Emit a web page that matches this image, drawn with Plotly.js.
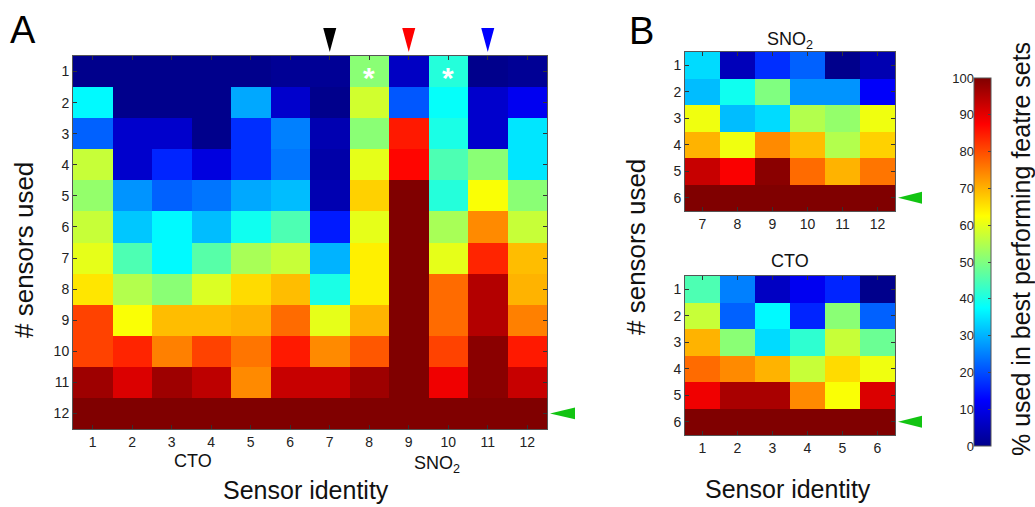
<!DOCTYPE html>
<html>
<head>
<meta charset="utf-8">
<script src="https://cdn.plot.ly/plotly-3.0.1.min.js"></script>
<style>html,body{margin:0;padding:0;background:#fff;}#chart{width:1035px;height:507px;}</style>
</head>
<body>
<div id="chart"></div>
<script>
// ---- data ----
const aCols = [1,2,3,4,5,6,7,8,9,10,11,12];
const aRows = [1,2,3,4,5,6,7,8,9,10,11,12];
// % used in best performing feature sets; rows = # sensors used, columns = sensor identity
const aValues = [
  [0, 0, 0, 0, 0, 1, 1, 51, 6, 41, 0, 1],
  [37, 0, 0, 0, 29, 7, 0, 58, 21, 38, 7, 11],
  [22, 7, 7, 0, 17, 25, 4, 51, 85, 40, 7, 35],
  [57, 7, 16, 9, 17, 24, 3, 60, 87, 45, 51, 35],
  [52, 27, 22, 24, 29, 31, 4, 67, 100, 41, 62, 51],
  [57, 32, 37, 31, 39, 45, 15, 60, 100, 54, 74, 57],
  [60, 45, 37, 46, 54, 57, 30, 64, 100, 60, 84, 69],
  [65, 55, 51, 59, 66, 69, 40, 64, 100, 77, 95, 70],
  [81, 62, 69, 69, 70, 77, 60, 70, 100, 77, 95, 75],
  [81, 84, 75, 81, 76, 85, 74, 79, 100, 81, 99, 85],
  [97, 91, 97, 94, 74, 93, 93, 97, 100, 89, 99, 93],
  [100, 100, 100, 100, 100, 100, 100, 100, 100, 100, 100, 100]
];
const snoCols = [7,8,9,10,11,12];
const ctoCols = [1,2,3,4,5,6];
const bRows = [1,2,3,4,5,6];
const snoValues = [
  [34, 5, 17, 22, 0, 4],
  [31, 39, 50, 27, 27, 12],
  [61, 31, 34, 55, 52, 61],
  [70, 61, 74, 69, 55, 67],
  [93, 88, 99, 77, 70, 76],
  [100, 100, 100, 100, 100, 100]
];
const ctoValues = [
  [45, 25, 6, 11, 16, 0],
  [57, 22, 37, 16, 51, 22],
  [70, 51, 34, 42, 57, 48],
  [77, 74, 70, 57, 66, 61],
  [89, 96, 96, 74, 62, 91],
  [100, 100, 100, 100, 100, 100]
];
const markedCols = [7, 9, 11];
const markedColors = ['#000000', '#ff0000', '#0000ff'];
const starCols = [8, 10];
const starRows = [1, 1];
const fullRowA = 12;
const fullRowB = 6;
const cbTicks = [0,10,20,30,40,50,60,70,80,90,100];

// ---- drawing ----
const W = 1035, H = 507;
const px = v => v / W;
const py = v => 1 - v / H;
const FONT = 'Liberation Sans, Arial, Helvetica, sans-serif';
const jet = [[0,'rgb(0,0,140)'],[0.125,'rgb(0,0,255)'],[0.375,'rgb(0,255,255)'],[0.625,'rgb(255,255,0)'],[0.875,'rgb(255,0,0)'],[1,'rgb(128,0,0)']];

const traces = [];
traces.push({
  type:'heatmap', x:aCols, y:aRows, z:aValues, xaxis:'x', yaxis:'y',
  colorscale:jet, zmin:0, zmax:100, hoverinfo:'skip',
  colorbar:{x:px(974), xanchor:'left', y:1-446/H, yanchor:'bottom', len:368, lenmode:'pixels',
    thickness:17, thicknessmode:'pixels', xpad:0, ypad:0, outlinewidth:1, outlinecolor:'#555',
    ticks:'inside', ticklen:3, tickcolor:'#444', tickvals:cbTicks, showticklabels:false}
});
traces.push({type:'heatmap', x:snoCols, y:bRows, z:snoValues, xaxis:'x2', yaxis:'y2',
  colorscale:jet, zmin:0, zmax:100, showscale:false, hoverinfo:'skip'});
traces.push({type:'heatmap', x:ctoCols, y:bRows, z:ctoValues, xaxis:'x3', yaxis:'y3',
  colorscale:jet, zmin:0, zmax:100, showscale:false, hoverinfo:'skip'});
// colorbar label axis holder
traces.push({type:'scatter', x:[], y:[], xaxis:'x4', yaxis:'y4', showlegend:false, hoverinfo:'skip'});

function tri(xs, ys, color, xa, ya){
  return {type:'scatter', mode:'lines', x:xs, y:ys, xaxis:xa, yaxis:ya, fill:'toself',
    fillcolor:color, line:{width:0, color:color}, showlegend:false, hoverinfo:'skip'};
}
markedCols.forEach((c,i)=>{
  traces.push(tri([c-0.165, c+0.165, c, c-0.165], [28, 28, 4, 28], markedColors[i], 'x', 'y5'));
});
const green = '#12c412';
traces.push(tri([3, 28, 28, 3], [fullRowA, fullRowA-0.19, fullRowA+0.19, fullRowA], green, 'x6', 'y'));
traces.push(tri([3, 27, 27, 3], [fullRowB, fullRowB-0.23, fullRowB+0.23, fullRowB], green, 'x7', 'y2'));
traces.push(tri([3, 27, 27, 3], [fullRowB, fullRowB-0.23, fullRowB+0.23, fullRowB], green, 'x7', 'y3'));

const axBase = {showgrid:false, zeroline:false, showline:true, linecolor:'#555', linewidth:1,
  mirror:'ticks', ticks:'inside', ticklen:4, tickcolor:'#333',
  tickfont:{family:FONT, size:14, color:'#222'}, fixedrange:true};

function note(text, x, y, size, extra){
  return Object.assign({text:text, x:px(x), y:py(y), xref:'paper', yref:'paper', xanchor:'center', yanchor:'middle',
    showarrow:false, font:{size:size, family:FONT, color:'#111'}}, extra || {});
}
const annotations = [
  note('A', 23, 30, 38, {font:{size:38, family:FONT, color:'#000'}}),
  note('B', 641, 31, 38, {font:{size:38, family:FONT, color:'#000'}}),
  note('# sensors used', 24, 250, 26, {textangle:-90}),
  note('Sensor identity', 306, 490, 25, {borderpad:0}),
  note('CTO', 193, 461, 18),
  note('SNO<sub>2</sub>', 437, 464, 18),
  note('SNO<sub>2</sub>', 790, 41, 18),
  note('CTO', 790, 261, 18),
  note('# sensors used', 636, 247, 26, {textangle:-90}),
  note('Sensor identity', 788, 489, 25, {borderpad:0}),
  note('% used in best performing featre sets', 1021, 249, 25, {textangle:-90})
];
starCols.forEach((c,i)=>{
  annotations.push({text:'*', x:c, y:starRows[i], xref:'x', yref:'y', xanchor:'center', yanchor:'middle',
    yshift:-6, showarrow:false, font:{size:30, family:FONT, color:'#ffffff', weight:'bold'}});
});

const layout = {
  width:W, height:H, margin:{l:0,r:0,t:0,b:0}, paper_bgcolor:'#fff', plot_bgcolor:'#fff',
  font:{family:FONT, color:'#111'}, showlegend:false,
  xaxis:Object.assign({}, axBase, {domain:[px(73), px(547)], anchor:'y', range:[0.5,12.5], tickvals:aCols}),
  yaxis:Object.assign({}, axBase, {domain:[py(429), py(56)], anchor:'x', range:[12.5,0.5], tickvals:aRows}),
  xaxis2:Object.assign({}, axBase, {domain:[px(685), px(895)], anchor:'y2', range:[6.5,12.5], tickvals:snoCols}),
  yaxis2:Object.assign({}, axBase, {domain:[py(211), py(52)], anchor:'x2', range:[6.5,0.5], tickvals:bRows}),
  xaxis3:Object.assign({}, axBase, {domain:[px(685), px(895)], anchor:'y3', range:[0.5,6.5], tickvals:ctoCols}),
  yaxis3:Object.assign({}, axBase, {domain:[py(435), py(276)], anchor:'x3', range:[6.5,0.5], tickvals:bRows}),
  xaxis4:{domain:[px(974), px(991)], anchor:'y4', range:[0,1], visible:false, fixedrange:true},
  yaxis4:{domain:[py(446), py(78)], anchor:'free', position:px(974), side:'left', range:[0,100],
    tickvals:cbTicks, ticks:'', showline:false, showgrid:false, zeroline:false,
    tickfont:{family:FONT, size:13, color:'#222'}, fixedrange:true},
  yaxis5:{domain:[py(56), py(18)], anchor:'x', range:[0,38], visible:false, fixedrange:true},
  xaxis6:{domain:[px(547), px(590)], anchor:'y', range:[0,43], visible:false, fixedrange:true},
  xaxis7:{domain:[px(895), px(935)], anchor:'y2', range:[0,40], visible:false, fixedrange:true},
  annotations:annotations
};

Plotly.newPlot('chart', traces, layout, {staticPlot:true, displayModeBar:false});
</script>
</body>
</html>
